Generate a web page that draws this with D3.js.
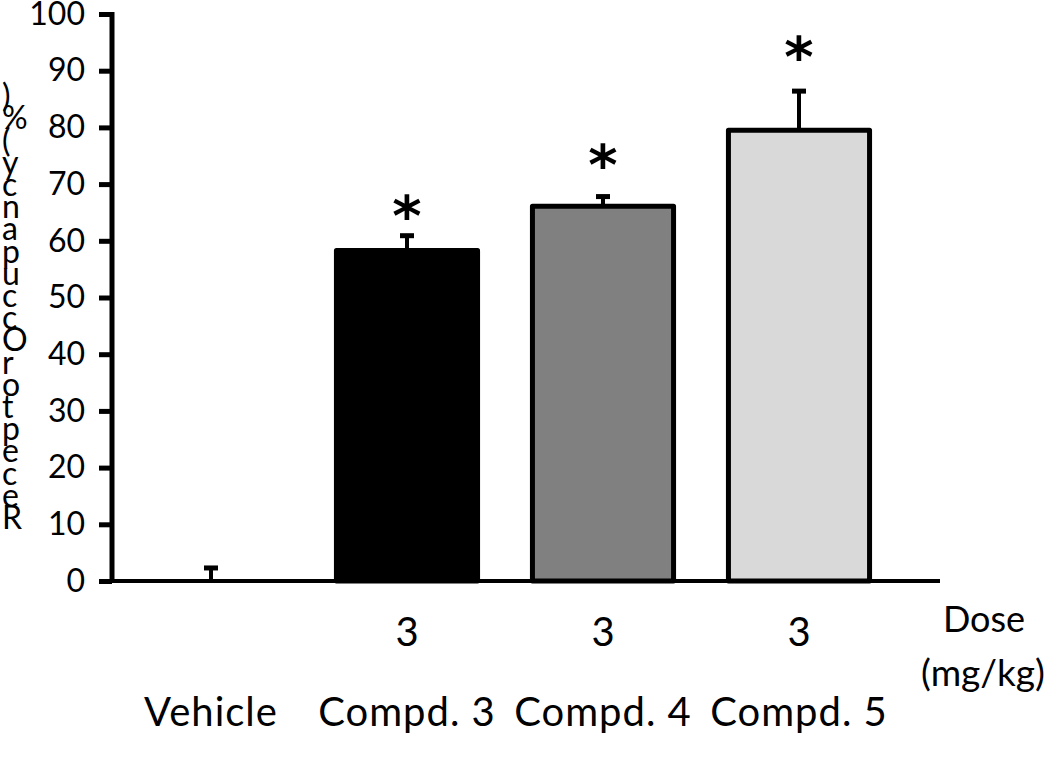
<!DOCTYPE html>
<html>
<head>
<meta charset="utf-8">
<script src="https://cdn.jsdelivr.net/npm/d3@7"></script>
<style>
  body { margin: 0; background: #fff; }
  svg { display: block; }
</style>
</head>
<body>
<div id="chart"></div>
<script>
// data
var categories = ["Vehicle", "Compd. 3", "Compd. 4", "Compd. 5"];
var doses = ["", "3", "3", "3"];
var occupancy = [0, 58.3, 66.1, 79.5];
var sem = [2.3, 2.6, 1.7, 6.9];
var starAt = [null, 66.5, 75.5, 94.5];
var fills = ["#ffffff", "#000000", "#808080", "#d9d9d9"];
var yTicks = [0, 10, 20, 30, 40, 50, 60, 70, 80, 90, 100];
var yLabel = "Receptor Occupancy (%)";

var width = 1050, height = 760;
var font = "Lato, 'Open Sans', sans-serif";

var svg = d3.select("#chart")
  .append("svg")
  .attr("width", width)
  .attr("height", height);

var y = d3.scaleLinear()
  .domain([0, 100])
  .range([581, 14]);

var x = d3.scaleBand()
  .domain(categories)
  .range([113, 897])
  .paddingInner(0.28)
  .paddingOuter(0.14);

// bars (vehicle is zero so nothing shows)
svg.selectAll("rect.bar")
  .data(categories)
  .enter()
  .append("rect")
  .attr("class", "bar")
  .attr("x", function(d) { return x(d); })
  .attr("width", x.bandwidth())
  .attr("y", function(d, i) { return y(occupancy[i]); })
  .attr("height", function(d, i) { return y(0) - y(occupancy[i]); })
  .attr("fill", function(d, i) { return fills[i]; })
  .attr("stroke", "black")
  .attr("stroke-width", 5)
  .attr("stroke-linejoin", "round")
  .style("display", function(d, i) { return occupancy[i] > 0 ? null : "none"; });

// error bars, upper only
var eb = svg.selectAll("g.err")
  .data(categories)
  .enter()
  .append("g")
  .attr("class", "err");

eb.append("line")
  .attr("x1", function(d) { return x(d) + x.bandwidth() / 2; })
  .attr("x2", function(d) { return x(d) + x.bandwidth() / 2; })
  .attr("y1", function(d, i) { return y(occupancy[i]); })
  .attr("y2", function(d, i) { return y(occupancy[i] + sem[i]); })
  .attr("stroke", "black")
  .attr("stroke-width", 4);

eb.append("line")
  .attr("x1", function(d) { return x(d) + x.bandwidth() / 2 - 7; })
  .attr("x2", function(d) { return x(d) + x.bandwidth() / 2 + 7; })
  .attr("y1", function(d, i) { return y(occupancy[i] + sem[i]); })
  .attr("y2", function(d, i) { return y(occupancy[i] + sem[i]); })
  .attr("stroke", "black")
  .attr("stroke-width", 5);

// significance stars
svg.selectAll("text.star")
  .data(categories.filter(function(d, i) { return starAt[i] != null; }))
  .enter()
  .append("text")
  .attr("class", "star")
  .attr("x", function(d) { return x(d) + x.bandwidth() / 2; })
  .attr("y", function(d) { return y(starAt[categories.indexOf(d)]) + 31; })
  .attr("text-anchor", "middle")
  .attr("font-family", "'DejaVu Sans', sans-serif")
  .attr("font-weight", "bold")
  .style("font-size", "56px")
  .text("*");

// y axis
var yAxis = d3.axisLeft(y)
  .tickValues(yTicks)
  .tickSize(13)
  .tickPadding(14)
  .tickSizeOuter(0);

var gy = svg.append("g")
  .attr("transform", "translate(112,0)")
  .call(yAxis);

gy.select(".domain")
  .attr("stroke", "black")
  .attr("stroke-width", 5)
  .attr("d", "M0," + (y(100) - 2) + "V" + (y(0) + 2));

gy.selectAll(".tick line")
  .attr("stroke", "black")
  .attr("stroke-width", 5);

gy.selectAll(".tick text")
  .attr("font-family", font)
  .attr("fill", "black")
  .style("font-size", "32px");

// baseline
svg.append("line")
  .attr("x1", 110)
  .attr("x2", 940)
  .attr("y1", y(0))
  .attr("y2", y(0))
  .attr("stroke", "black")
  .attr("stroke-width", 4);

// dose row and category row
svg.selectAll("text.dose")
  .data(categories)
  .enter()
  .append("text")
  .attr("class", "dose")
  .attr("x", function(d) { return x(d) + x.bandwidth() / 2; })
  .attr("y", 646)
  .attr("text-anchor", "middle")
  .attr("font-family", font)
  .style("font-size", "40px")
  .text(function(d, i) { return doses[i]; });

svg.selectAll("text.cat")
  .data(categories)
  .enter()
  .append("text")
  .attr("class", "cat")
  .attr("x", function(d) { return x(d) + x.bandwidth() / 2; })
  .attr("y", 726)
  .attr("text-anchor", "middle")
  .attr("font-family", font)
  .style("font-size", "40px")
  .style("letter-spacing", "1px")
  .text(function(d) { return d; });

svg.append("text")
  .attr("x", 984)
  .attr("y", 632)
  .attr("text-anchor", "middle")
  .attr("font-family", font)
  .style("font-size", "36px")
  .text("Dose");

svg.append("text")
  .attr("x", 983)
  .attr("y", 686)
  .attr("text-anchor", "middle")
  .attr("font-family", font)
  .style("font-size", "37px")
  .text("(mg/kg)");

// y label: letters stacked upright, bottom to top, spaces dropped
var chars = yLabel.replace(/ /g, "").split("");
svg.selectAll("text.ylab")
  .data(chars)
  .enter()
  .append("text")
  .attr("class", "ylab")
  .attr("x", 2)
  .attr("y", function(d, i) { return 529 - i * 22.2; })
  .attr("font-family", font)
  .style("font-size", "32px")
  .text(function(d) { return d; });
</script>
</body>
</html>
